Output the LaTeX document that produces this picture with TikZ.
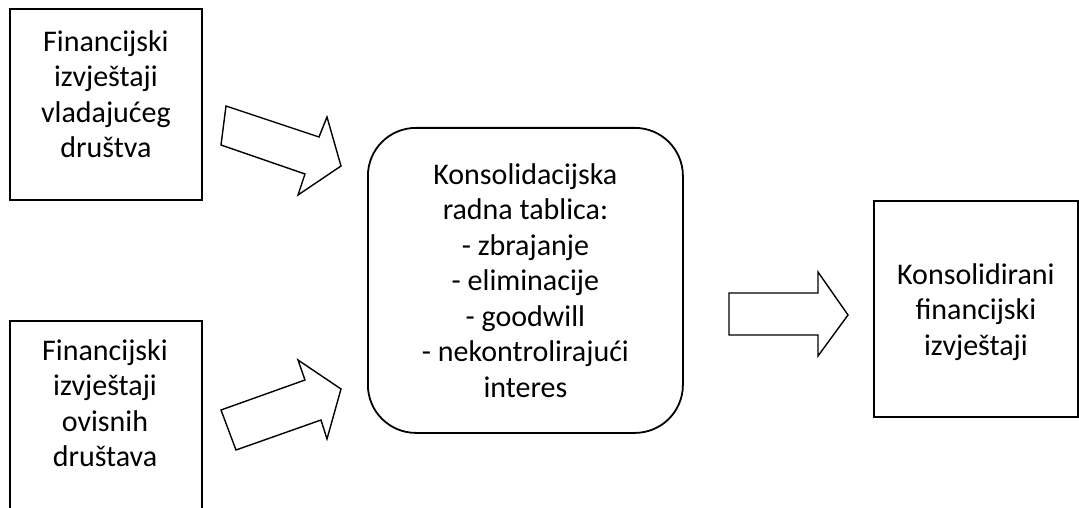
\documentclass[tikz,border=0pt]{standalone}
\usepackage{fontspec}
\setmainfont{Carlito}
\tikzset{
  okvir/.style={draw, line width=1.8pt, inner sep=0pt, anchor=north west},
  tekst/.style={align=center, inner sep=0pt, font=\fontsize{30}{35.5}\selectfont},
  blokstrelica/.style={draw, line width=1.4pt, line join=miter, fill=white},
}
\begin{document}
\begin{tikzpicture}[x=1pt,y=-1pt]
	\clip (0,0) rectangle (1079,508);
	\fill[white] (0,0) rectangle (1079,508);

	\node[okvir, minimum width=192pt, minimum height=191pt] (vladajuce) at (9,8) {};
	\node[tekst] (vladajuceT) at (vladajuce.center) [yshift=10pt] {Financijski\\izvještaji\\vladajućeg\\društva};

	\node[okvir, minimum width=192pt, minimum height=220pt] (ovisna) at (9,320) {};
	\node[tekst] (ovisnaT) at (105,403) {Financijski\\izvještaji\\ovisnih\\društava};

	\node[okvir, rounded corners=48pt, minimum width=315pt, minimum height=305pt] (tablica) at (367,127) {};
	\node[tekst] (tablicaT) at (tablica.center) {Konsolidacijska\\radna tablica:\\- zbrajanje\\- eliminacije\\- goodwill\\- nekontrolirajući\\interes};

	\node[okvir, minimum width=204pt, minimum height=216pt] (konsolidirani) at (873,200) {};
	\node[tekst] (konsolidiraniT) at (konsolidirani.center) [yshift=-3pt] {Konsolidirani\\financijski\\izvještaji};

	% strelice
	\draw[blokstrelica] (226,106) -- (319,137) -- (327,117) -- (341,166) -- (298,195) -- (305,174) -- (221,145) -- cycle;
	\draw[blokstrelica] (221,410) -- (305,380) -- (298,360) -- (341,389) -- (327,439) -- (321,420) -- (236,450) -- cycle;
	\draw[blokstrelica] (729,293) -- (818,293) -- (818,272) -- (848,315) -- (818,356) -- (818,335) -- (729,335) -- cycle;
\end{tikzpicture}
\end{document}
